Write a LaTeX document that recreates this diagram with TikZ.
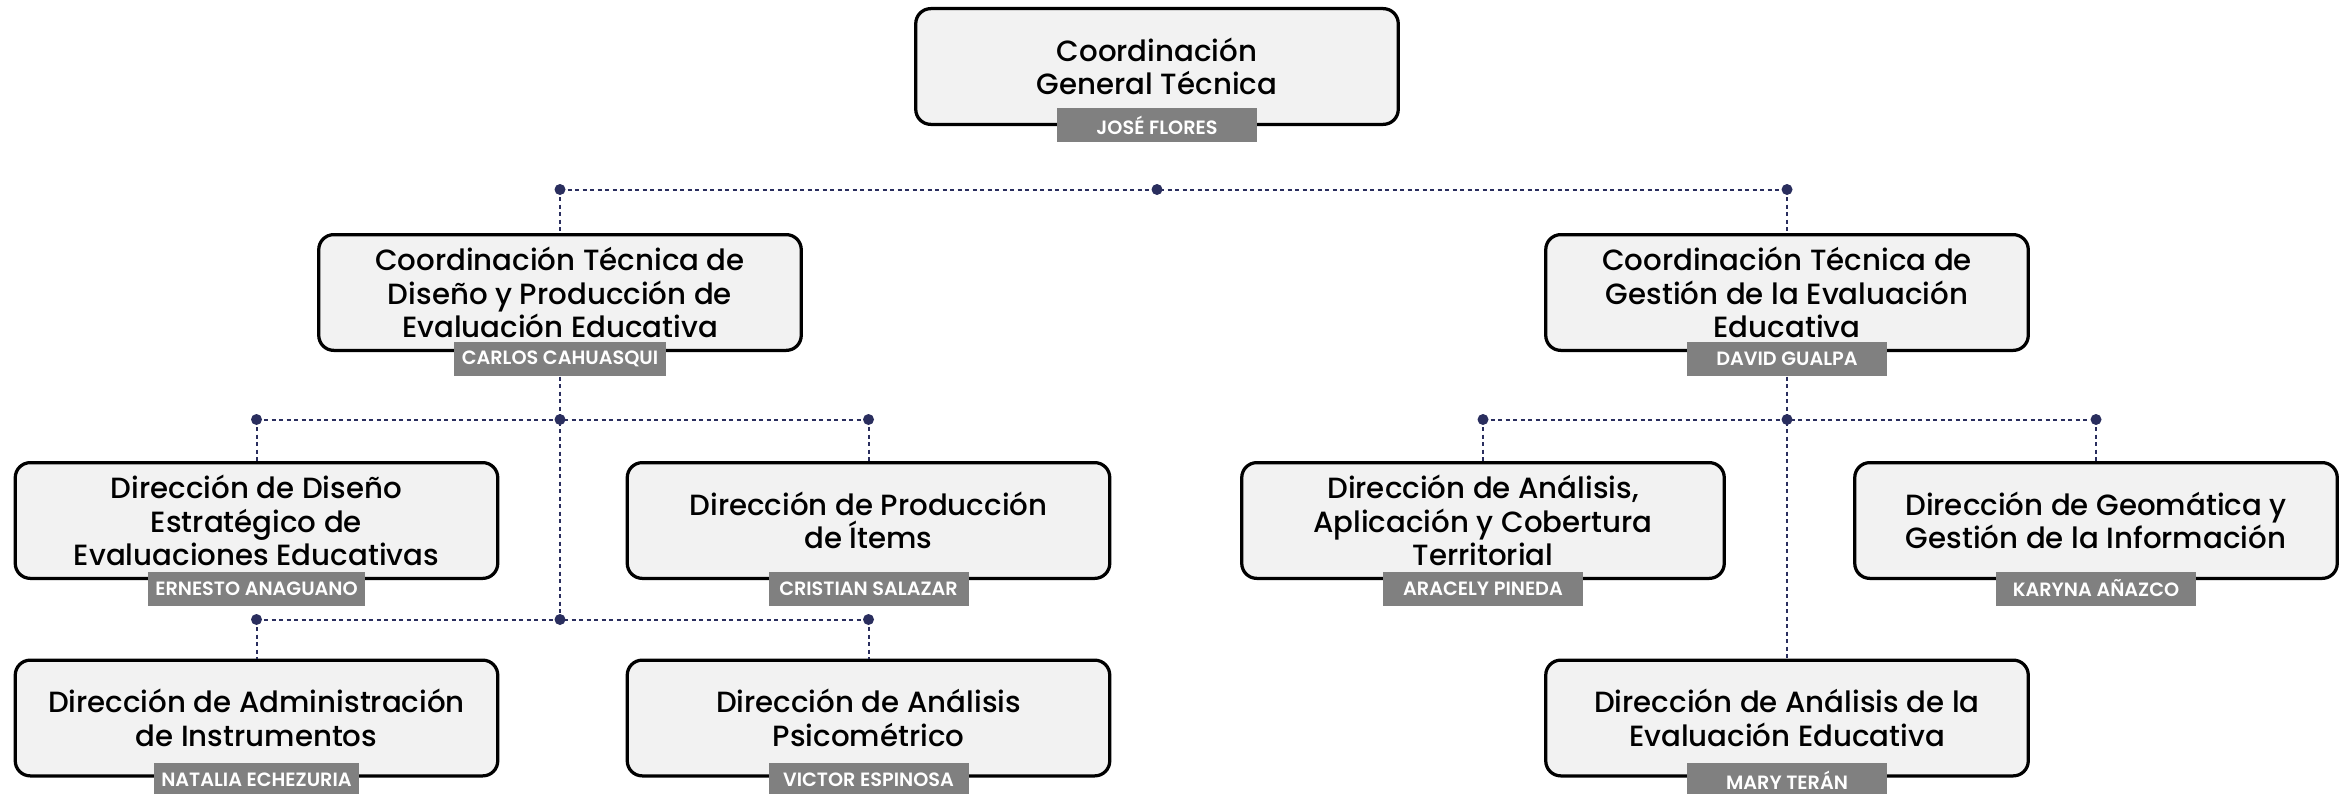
\documentclass[tikz,border=0pt]{standalone}
\usepackage{fontspec}
\setmainfont{Poppins}[UprightFont=* Medium, BoldFont=* SemiBold]
\definecolor{boxfill}{RGB}{242,242,242}
\definecolor{namefill}{RGB}{128,128,128}
\definecolor{navy}{RGB}{42,46,94}
\tikzset{
  unit/.style={draw=black, line width=1.3pt, fill=boxfill, rounded corners=6pt,
    minimum width=193pt, minimum height=46.3pt, align=center, inner sep=0pt,
    font=\fontsize{11.7}{13.4}\selectfont, text=black},
  namebox/.style={fill=namefill, text=white, minimum width=80pt, minimum height=13.6pt,
    inner xsep=3pt, inner ysep=0pt, font=\fontsize{7.7}{8}\selectfont\bfseries},
  conn/.style={draw=navy, line width=0.8pt, dash pattern=on 1.6pt off 1.4pt},
  junction/.style={circle, fill=navy, inner sep=0pt, minimum size=4.4pt}
}
\begin{document}
\begin{tikzpicture}[x=0.4pt,y=0.4pt,yscale=-1,xscale=1]
\useasboundingbox (0,0) rectangle (2351,793);

% Units
\node[unit] (ct) at (1157,66.5) {Coordinación\\General Técnica};
\node[unit] (cdp) at (560,292.5) {Coordinación Técnica de\\Diseño y Producción de\\Evaluación Educativa};
\node[unit] (cge) at (1787,292.5) {Coordinación Técnica de\\Gestión de la Evaluación\\Educativa};
\node[unit] (dde) at (256.5,520.5) {Dirección de Diseño\\Estratégico de\\Evaluaciones Educativas};
\node[unit] (dpi) at (868.5,520.5) {Dirección de Producción\\de Ítems};
\node[unit] (dac) at (1483,520.5) {Dirección de Análisis,\\Aplicación y Cobertura\\Territorial};
\node[unit] (dgi) at (2096,520.5) {Dirección de Geomática y\\Gestión de la Información};
\node[unit] (dai) at (256.5,718) {Dirección de Administración\\de Instrumentos};
\node[unit] (dap) at (868.5,718) {Dirección de Análisis\\Psicométrico};
\node[unit] (dae) at (1787,718) {Dirección de Análisis de la\\Evaluación Educativa};

% Names
\node[namebox] (n-ct) at (1157,125) {JOSÉ FLORES};
\node[namebox] (n-cdp) at (560,359) {CARLOS CAHUASQUI};
\node[namebox] (n-cge) at (1787,359) {DAVID GUALPA};
\node[namebox] (n-dde) at (256.5,588.5) {ERNESTO ANAGUANO};
\node[namebox] (n-dpi) at (868.5,588.5) {CRISTIAN SALAZAR};
\node[namebox] (n-dac) at (1483,588.5) {ARACELY PINEDA};
\node[namebox] (n-dgi) at (2096,588.5) {KARYNA AÑAZCO};
\node[namebox] (n-dai) at (256.5,780) {NATALIA ECHEZURIA};
\node[namebox] (n-dap) at (868.5,780) {VICTOR ESPINOSA};
\node[namebox] (n-dae) at (1787,780) {MARY TERÁN};

% Junctions
\coordinate (t-l) at (560,189.5);
\coordinate (t-c) at (1157,189.5);
\coordinate (t-r) at (1787,189.5);
\coordinate (a-l) at (256.5,419.5);
\coordinate (a-c) at (560,419.5);
\coordinate (a-r) at (868.5,419.5);
\coordinate (b-l) at (1483,419.5);
\coordinate (b-c) at (1787,419.5);
\coordinate (b-r) at (2096,419.5);
\coordinate (c-l) at (256.5,619.5);
\coordinate (c-c) at (560,619.5);
\coordinate (c-r) at (868.5,619.5);

% Connectors
\draw[conn] (t-l) -- (t-r);
\draw[conn] (t-l) -- (cdp.north);
\draw[conn] (t-r) -- (cge.north);
\draw[conn] (a-l) -- (a-r);
\draw[conn] (n-cdp.south) -- (c-c);
\draw[conn] (a-l) -- (dde.north);
\draw[conn] (a-r) -- (dpi.north);
\draw[conn] (c-l) -- (c-r);
\draw[conn] (c-l) -- (dai.north);
\draw[conn] (c-r) -- (dap.north);
\draw[conn] (b-l) -- (b-r);
\draw[conn] (n-cge.south) -- (dae.north);
\draw[conn] (b-l) -- (dac.north);
\draw[conn] (b-r) -- (dgi.north);

% Dots
\foreach \j in {t-l,t-c,t-r,a-l,a-c,a-r,b-l,b-c,b-r,c-l,c-c,c-r}
  \node[junction] at (\j) {};

\end{tikzpicture}
\end{document}
